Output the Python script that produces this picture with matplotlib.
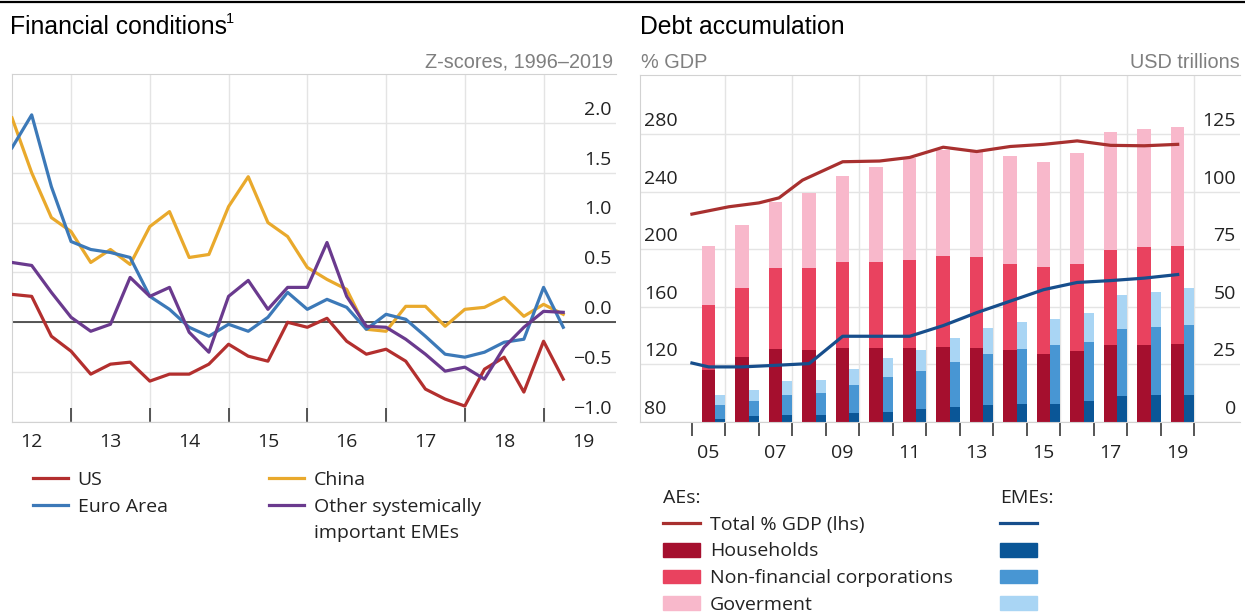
import numpy as np
import matplotlib
matplotlib.use('Agg')
import matplotlib.pyplot as plt
import matplotlib.transforms as mtransforms
from matplotlib.lines import Line2D
from matplotlib.patches import Patch
from matplotlib.ticker import FuncFormatter

plt.rcParams['font.family'] = ['Open Sans', 'DejaVu Sans']

# ---------------- left panel: financial conditions (quarterly z-scores) ----------------
fc_start = 2012.25
us = [0.28, 0.26, -0.14, -0.29, -0.52, -0.42, -0.40, -0.59, -0.52, -0.52,
      -0.42, -0.22, -0.34, -0.39, 0.00, -0.05, 0.04, -0.19, -0.32, -0.27,
      -0.39, -0.67, -0.77, -0.84, -0.47, -0.35, -0.70, -0.19, -0.57]
china = [2.05, 1.50, 1.05, 0.91, 0.60, 0.73, 0.58, 0.96, 1.11, 0.65,
         0.68, 1.16, 1.46, 1.00, 0.86, 0.55, 0.43, 0.33, -0.07, -0.09,
         0.16, 0.16, -0.04, 0.13, 0.15, 0.25, 0.06, 0.18, 0.08]
euro = [1.75, 2.08, 1.36, 0.81, 0.73, 0.70, 0.65, 0.26, 0.13, -0.05,
        -0.14, -0.02, -0.09, 0.05, 0.30, 0.13, 0.23, 0.15, -0.07, 0.08,
        0.03, -0.14, -0.32, -0.35, -0.30, -0.20, -0.17, 0.35, -0.05]
other_emes = [0.60, 0.57, 0.30, 0.05, -0.09, -0.02, 0.45, 0.26, 0.35, -0.10,
              -0.30, 0.26, 0.42, 0.13, 0.35, 0.35, 0.80, 0.26, -0.04, -0.05,
              -0.17, -0.32, -0.49, -0.45, -0.57, -0.25, -0.05, 0.11, 0.10]
fc_x = fc_start + 0.25 * np.arange(len(us))
fc_ticks = [-1.0, -0.5, 0.0, 0.5, 1.0, 1.5, 2.0]
fc_year_labels = ['12', '13', '14', '15', '16', '17', '18', '19']

# ---------------- right panel: debt accumulation ----------------
years = np.arange(2005, 2020)
# USD trillions (rhs)
ae_hh = [22.5, 28.3, 31.6, 31.2, 32.3, 32.3, 32.3, 32.6, 32.3, 31.2, 29.7, 30.9, 33.3, 33.6, 33.8]
ae_nfc = [28.5, 30.1, 35.1, 35.5, 37.3, 37.3, 38.0, 39.4, 39.2, 37.3, 37.7, 37.9, 41.6, 42.4, 42.6]
ae_gov = [25.6, 27.1, 28.9, 32.6, 37.2, 41.0, 44.2, 46.1, 45.9, 47.0, 45.6, 47.9, 51.2, 51.1, 51.9]
eme_hh = [1.5, 2.5, 2.9, 2.9, 3.9, 4.3, 5.5, 6.5, 7.5, 8.0, 8.0, 9.0, 11.2, 11.9, 11.9]
eme_nfc = [5.8, 6.6, 8.9, 9.8, 12.1, 15.4, 16.6, 19.6, 22.2, 23.9, 25.4, 25.8, 29.4, 29.4, 30.4]
eme_gov = [4.3, 4.7, 5.8, 5.6, 6.9, 8.2, 9.1, 10.2, 11.2, 11.6, 11.3, 12.6, 14.4, 15.1, 15.9]
# % GDP (lhs)
ae_total_x = [2005.0, 2006.1, 2007.0, 2007.6, 2008.3, 2009.5, 2010.6, 2011.5,
              2012.5, 2013.5, 2014.5, 2015.5, 2016.5, 2017.5, 2018.5, 2019.5]
ae_total = [224.5, 229.6, 232.3, 235.8, 248.1, 260.9, 261.4, 263.9,
            271.0, 268.0, 271.5, 273.0, 275.4, 272.3, 272.0, 273.0]
eme_total_x = [2005.0, 2005.5, 2006.5, 2007.5, 2008.5, 2009.5, 2010.6, 2011.5,
               2012.5, 2013.5, 2014.5, 2015.5, 2016.5, 2017.5, 2018.5, 2019.5]
eme_total = [121.0, 118.3, 118.3, 119.4, 120.6, 139.6, 139.6, 139.6,
             147.0, 156.0, 164.0, 172.0, 177.0, 178.3, 180.0, 182.5]
pct_ticks = [80, 120, 160, 200, 240, 280]
usd_ticks = [0, 25, 50, 75, 100, 125]

W, H = 1245, 612
fig = plt.figure(figsize=(W / 100, H / 100), dpi=100)

grid_c = '#e4e4e4'
spine_c = '#d2d2d2'
tick_c = '#3a3a3a'
txt_c = '#222222'
sub_c = '#7f7f7f'

def minus(v, pos):
    return f'{v:.1f}'.replace('-', '\u2212')

# y labels sit just above their gridlines
lift = mtransforms.ScaledTranslation(0, 3 / 72, fig.dpi_scale_trans)

def raise_labels(ax, ha):
    for t in ax.yaxis.get_major_ticks():
        for lab in (t.label1, t.label2):
            lab.set_ha(ha)
            lab.set_va('bottom')
            lab.set_transform(lab.get_transform() + lift)

# ---------- left axes ----------
ax1 = fig.add_axes([12 / W, 190 / H, 604 / W, 348 / H])
ax1.plot(fc_x, us, color='#b32f2e', lw=2.3, zorder=3)
ax1.plot(fc_x, china, color='#e9a92c', lw=2.3, zorder=3)
ax1.plot(fc_x, euro, color='#3c79b8', lw=2.3, zorder=3)
ax1.plot(fc_x, other_emes, color='#6a3a8e', lw=2.3, zorder=3)
ax1.axhline(0, color='#2a2a2a', lw=1.1, zorder=2)
ax1.set_xlim(2012.25, 2019.92)
ax1.set_ylim(-1.0, 2.49)
ax1.set_yticks(fc_ticks)
ax1.yaxis.set_major_formatter(FuncFormatter(minus))
ax1.yaxis.tick_right()
ax1.tick_params(axis='y', length=0, pad=-3, labelsize=14, labelcolor=txt_c)
ax1.set_xticks(np.arange(2013, 2020), minor=True)
ax1.set_xticks(np.arange(2012.5, 2020), labels=fc_year_labels)
ax1.tick_params(axis='x', which='major', length=0, pad=8, labelsize=14, labelcolor=txt_c)
ax1.tick_params(axis='x', which='minor', direction='in', length=10, width=1.2, color=tick_c)
ax1.grid(axis='y', color=grid_c, lw=1)
ax1.grid(axis='x', which='minor', color=grid_c, lw=1)
ax1.set_axisbelow(True)
ax1.spines['right'].set_visible(False)
for s in ['top', 'left', 'bottom']:
    ax1.spines[s].set_color(spine_c)
raise_labels(ax1, 'right')

# ---------- right axes ----------
ax2 = fig.add_axes([640 / W, 190 / H, 600 / W, 347 / H])
ax3 = ax2.twinx()
ax2.yaxis.tick_right()
ax3.yaxis.tick_left()

ae_x = years + 0.30
eme_x = years + 0.70
ae_nfc_bottom = np.array(ae_hh)
ae_gov_bottom = ae_nfc_bottom + np.array(ae_nfc)
eme_nfc_bottom = np.array(eme_hh)
eme_gov_bottom = eme_nfc_bottom + np.array(eme_nfc)
ax2.bar(ae_x, ae_hh, width=0.40, align='edge', color='#a50f2e', lw=0)
ax2.bar(ae_x, ae_nfc, width=0.40, bottom=ae_nfc_bottom, align='edge', color='#e9425f', lw=0)
ax2.bar(ae_x, ae_gov, width=0.40, bottom=ae_gov_bottom, align='edge', color='#f8b8cb', lw=0)
ax2.bar(eme_x, eme_hh, width=0.30, align='edge', color='#0a5697', lw=0)
ax2.bar(eme_x, eme_nfc, width=0.30, bottom=eme_nfc_bottom, align='edge', color='#4896d3', lw=0)
ax2.bar(eme_x, eme_gov, width=0.30, bottom=eme_gov_bottom, align='edge', color='#a9d5f4', lw=0)

for gx in range(2006, 2021, 2):
    ax2.axvline(gx, color=grid_c, lw=1, zorder=0.5)
ax2.grid(axis='y', color=grid_c, lw=1)
ax2.set_axisbelow(True)
ax2.set_xlim(2003.45, 2021.36)
ax2.set_ylim(0, 150.75)
ax2.set_yticks(usd_ticks)
ax2.tick_params(axis='y', length=0, pad=-3, labelsize=14, labelcolor=txt_c)
ax2.set_xticks(np.arange(2005, 2021), minor=True)
ax2.set_xticks(years[::2] + 0.5, labels=[f'{y % 100:02d}' for y in years[::2]])
ax2.tick_params(axis='x', which='major', length=0, pad=16, labelsize=14, labelcolor=txt_c)
ax2.tick_params(axis='x', which='minor', direction='out', length=10, width=1.2, color=tick_c)
ax2.spines['right'].set_visible(False)
for s in ['top', 'left', 'bottom']:
    ax2.spines[s].set_color(spine_c)
raise_labels(ax2, 'right')

ax3.plot(ae_total_x, ae_total, color='#a8302f', lw=2.3, zorder=3)
ax3.plot(eme_total_x, eme_total, color='#174e8c', lw=2.3, zorder=3)
ax3.set_ylim(80, 321.2)
ax3.set_yticks(pct_ticks)
ax3.tick_params(axis='y', length=0, pad=-3, labelsize=14, labelcolor=txt_c)
for s in ax3.spines.values():
    s.set_visible(False)
raise_labels(ax3, 'left')

# ---------- titles ----------
fig.add_artist(Line2D([0, 1], [1 - 1.5 / H] * 2, transform=fig.transFigure, color='black', lw=1.6))
t1 = fig.text(10 / W, 1 - 27 / H, 'Financial conditions', family='Liberation Sans',
              fontsize=17.8, color='black', va='center', ha='left')
ax1.annotate('1', xy=(1.0, 0.85), xycoords=t1, xytext=(-1, 0), textcoords='offset points',
             family='Liberation Sans', fontsize=10.5, va='center', ha='left', annotation_clip=False)
fig.text(640 / W, 1 - 27 / H, 'Debt accumulation', family='Liberation Sans',
         fontsize=17.8, color='black', va='center', ha='left')
fig.text(613 / W, 1 - 62 / H, 'Z-scores, 1996\u20132019', family='Liberation Sans',
         fontsize=14.3, color=sub_c, va='center', ha='right')
fig.text(641 / W, 1 - 62 / H, '% GDP', family='Liberation Sans',
         fontsize=14.3, color=sub_c, va='center', ha='left')
fig.text(1240 / W, 1 - 62 / H, 'USD trillions', family='Liberation Sans',
         fontsize=14.3, color=sub_c, va='center', ha='right')

# ---------- legends ----------
blank = Line2D([], [], color='none')
left_handles = [Line2D([], [], color='#b32f2e', lw=2.3),
                Line2D([], [], color='#3c79b8', lw=2.3),
                blank,
                Line2D([], [], color='#e9a92c', lw=2.3),
                Line2D([], [], color='#6a3a8e', lw=2.3),
                blank]
left_labels = ['US', 'Euro Area', '', 'China', 'Other systemically', 'important EMEs']
fig.legend(left_handles, left_labels, loc='upper left', bbox_to_anchor=(33 / W, 1 - 471 / H),
           ncol=2, frameon=False, fontsize=14, handlelength=1.8, handletextpad=0.5,
           columnspacing=5.2, labelspacing=0.45, borderpad=0, borderaxespad=0,
           labelcolor=txt_c)

ae_handles = [Line2D([], [], color='#a8302f', lw=2.3),
              Patch(color='#a50f2e'), Patch(color='#e9425f'), Patch(color='#f8b8cb')]
ae_labels = ['Total % GDP (lhs)', 'Households', 'Non-financial corporations', 'Goverment']
eme_handles = [Line2D([], [], color='#174e8c', lw=2.3),
               Patch(color='#0a5697'), Patch(color='#4896d3'), Patch(color='#a9d5f4')]
for hs, labs, x0, title in [(ae_handles, ae_labels, 663, 'AEs:'),
                            (eme_handles, [''] * 4, 1000, 'EMEs:')]:
    leg = fig.legend(hs, labs, loc='upper left', bbox_to_anchor=(x0 / W, 1 - 489 / H),
                     frameon=False, fontsize=14, title=title, title_fontsize=14,
                     alignment='left', handlelength=1.9, handletextpad=0.5,
                     labelspacing=0.45, borderpad=0, borderaxespad=0, labelcolor=txt_c)
    leg.get_title().set_color(txt_c)

fig.savefig('out.png', dpi=100)
